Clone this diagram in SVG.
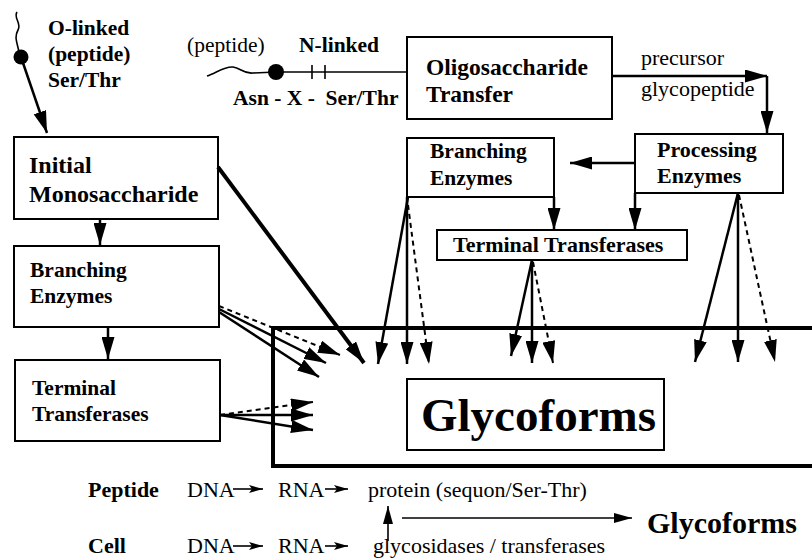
<svg xmlns="http://www.w3.org/2000/svg" width="812" height="560" viewBox="0 0 812 560">
<defs>
<marker id="ah" viewBox="0 0 22 13" refX="22" refY="6.5" markerWidth="22" markerHeight="13" markerUnits="userSpaceOnUse" orient="auto"><path d="M0,0 L22,6.5 L0,13 z" fill="#000" stroke="none"/></marker>
<marker id="ahm" viewBox="0 0 18 10" refX="18" refY="5" markerWidth="18" markerHeight="10" markerUnits="userSpaceOnUse" orient="auto"><path d="M0,0 L18,5 L0,10 z" fill="#000" stroke="none"/></marker>
<marker id="ahs" viewBox="0 0 14 8" refX="14" refY="4" markerWidth="14" markerHeight="8" markerUnits="userSpaceOnUse" orient="auto"><path d="M0,0 L14,4 L3,4 z M0,8 L14,4 L3,4 z" fill="#000" stroke="none"/></marker>
</defs>
<style>
.box{fill:#fff;stroke:#000;stroke-width:2}
.b{font-family:"Liberation Serif","Times New Roman",serif;font-weight:bold;font-size:21.5px;fill:#000}
.r{font-family:"Liberation Serif","Times New Roman",serif;font-weight:normal;font-size:22px;fill:#000}
.ln{stroke:#000;stroke-width:2.5;fill:none}
.th{stroke:#000;stroke-width:1.6;fill:none}
.dash{stroke-width:2;stroke-dasharray:5,4}
</style>
<rect width="812" height="560" fill="#fff"/>

<g id="glycoforms">
<rect x="273" y="328" width="560" height="138" fill="#fff" stroke="#000" stroke-width="4"/>
<rect class="box" x="407" y="379" width="257" height="71"/>
<text class="b" x="421" y="431" style="font-size:47px">Glycoforms</text>
</g>

<g id="olinked">
<path class="th" d="M17,12 C13,18 22,23 18,30 C14,37 17,42 19,52"/>
<circle cx="21" cy="57" r="7.5" fill="#000"/>
<text class="b" x="48" y="35">O-linked</text>
<text class="b" x="48" y="61">(peptide)</text>
<text class="b" x="48" y="87">Ser/Thr</text>
</g>

<g id="nlinked">
<text class="r" x="187" y="52" style="font-size:21.5px">(peptide)</text>
<text class="b" x="299" y="52">N-linked</text>
<path class="th" d="M207,76 C216,73 225,66 233,67 C241,68 243,74 253,73 L276,72"/>
<line class="th" x1="276" y1="72" x2="407" y2="72"/>
<circle cx="276" cy="72" r="8" fill="#000"/>
<line class="th" x1="312" y1="65" x2="312" y2="79"/>
<line class="th" x1="325" y1="65" x2="325" y2="79"/>
<text class="b" x="233" y="105" xml:space="preserve">Asn - X -  Ser/Thr</text>
</g>

<g id="oligo">
<rect class="box" x="407" y="37" width="205" height="82"/>
<text class="b" x="426" y="75" style="font-size:23.5px">Oligosaccharide</text>
<text class="b" x="426" y="102" style="font-size:23.5px">Transfer</text>
</g>
<text class="r" x="641" y="65">precursor</text>
<text class="r" x="641" y="96">glycopeptide</text>

<g id="initial">
<rect class="box" x="14" y="137" width="204" height="82"/>
<text class="b" x="29" y="173" style="font-size:24px">Initial</text>
<text class="b" x="29" y="202" style="font-size:24px">Monosaccharide</text>
</g>

<g id="branchingL">
<rect class="box" x="14" y="246" width="205" height="81"/>
<text class="b" x="30" y="277">Branching</text>
<text class="b" x="30" y="303">Enzymes</text>
</g>

<g id="terminalL">
<rect class="box" x="15" y="360" width="205" height="81"/>
<text class="b" x="32" y="395">Terminal</text>
<text class="b" x="32" y="421">Transferases</text>
</g>

<g id="branchingR">
<rect class="box" x="407" y="138" width="147" height="59"/>
<text class="b" x="430" y="158">Branching</text>
<text class="b" x="430" y="185">Enzymes</text>
</g>

<g id="processing">
<rect class="box" x="635" y="134" width="148" height="59"/>
<text class="b" x="657" y="157" style="font-size:22px">Processing</text>
<text class="b" x="657" y="183" style="font-size:22px">Enzymes</text>
</g>

<g id="terminalM">
<rect class="box" x="437" y="230" width="250" height="30"/>
<text class="b" x="453" y="252" style="font-size:22px">Terminal Transferases</text>
</g>

<g id="connectors">
<line class="ln" x1="22" y1="60" x2="47" y2="133" marker-end="url(#ah)"/>
<line class="ln" x1="612" y1="76" x2="767" y2="76" marker-end="url(#ah)"/>
<line class="ln" x1="767" y1="76" x2="767" y2="133" marker-end="url(#ah)"/>
<line class="ln" x1="100" y1="219" x2="100" y2="245" marker-end="url(#ah)"/>
<line class="ln" x1="108" y1="327" x2="108" y2="359" marker-end="url(#ah)"/>
<line class="ln" x1="635" y1="163" x2="570" y2="163" marker-end="url(#ah)"/>
<line class="ln" x1="554" y1="197" x2="554" y2="230" marker-end="url(#ah)"/>
<line class="ln" x1="635" y1="193" x2="635" y2="230" marker-end="url(#ah)"/>

<line x1="218" y1="167" x2="364" y2="363" stroke="#000" stroke-width="4" marker-end="url(#ah)"/>

<line class="ln dash" x1="219" y1="306" x2="340" y2="355" marker-end="url(#ah)"/>
<line class="ln" x1="219" y1="309" x2="326" y2="363" marker-end="url(#ah)"/>
<line class="ln" x1="219" y1="312" x2="319" y2="377" marker-end="url(#ah)"/>

<line class="ln dash" x1="220" y1="415" x2="313" y2="402" marker-end="url(#ah)"/>
<line class="ln" x1="220" y1="415" x2="313" y2="415" marker-end="url(#ah)"/>
<line class="ln" x1="220" y1="415" x2="313" y2="430" marker-end="url(#ah)"/>

<line class="ln" x1="408" y1="197" x2="378" y2="364" marker-end="url(#ah)"/>
<line class="ln" x1="407" y1="197" x2="407" y2="364" marker-end="url(#ah)"/>
<line class="ln dash" x1="408" y1="205" x2="429" y2="364" marker-end="url(#ah)"/>

<line class="ln" x1="532" y1="260" x2="511" y2="356" marker-end="url(#ah)"/>
<line class="ln" x1="532" y1="260" x2="532" y2="363" marker-end="url(#ah)"/>
<line class="ln dash" x1="533" y1="262" x2="553" y2="363" marker-end="url(#ah)"/>

<line class="ln" x1="738" y1="193" x2="695" y2="362" marker-end="url(#ah)"/>
<line class="ln" x1="738" y1="193" x2="738" y2="362" marker-end="url(#ah)"/>
<line class="ln dash" x1="739" y1="195" x2="775" y2="362" marker-end="url(#ah)"/>

<line class="th" x1="233" y1="489" x2="263" y2="489" marker-end="url(#ahs)"/>
<line class="th" x1="325" y1="489" x2="348" y2="489" marker-end="url(#ahs)"/>
<line class="th" x1="233" y1="546" x2="263" y2="546" marker-end="url(#ahs)"/>
<line class="th" x1="325" y1="546" x2="348" y2="546" marker-end="url(#ahs)"/>
<line class="th" x1="388" y1="541" x2="388" y2="506" marker-end="url(#ahm)"/>
<line class="th" x1="402" y1="518" x2="632" y2="518" marker-end="url(#ahm)"/>
</g>

<g id="bottom">
<text class="b" x="88" y="497" style="font-size:22px">Peptide</text>
<text class="r" x="187" y="497">DNA</text>
<text class="r" x="278" y="497">RNA</text>
<text class="r" x="368" y="497">protein (sequon/Ser-Thr)</text>
<text class="b" x="88" y="553" style="font-size:22px">Cell</text>
<text class="r" x="187" y="553">DNA</text>
<text class="r" x="278" y="553">RNA</text>
<text class="r" x="373" y="553">glycosidases / transferases</text>
<text class="b" x="647" y="533" style="font-size:30px">Glycoforms</text>
</g>
</svg>
